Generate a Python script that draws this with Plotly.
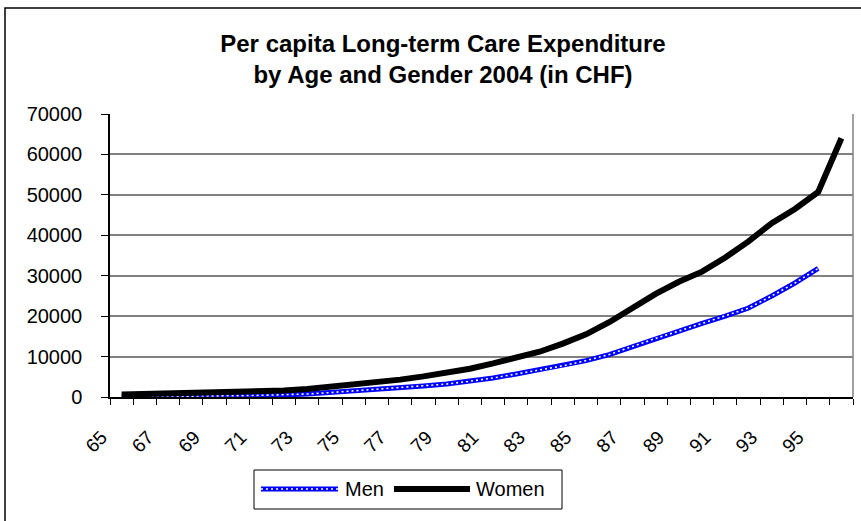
import plotly.graph_objects as go

ages_women = list(range(65, 97))
women = [600, 700, 900, 1000, 1100, 1200, 1400, 1600, 2000, 2500, 3000, 3600,
         4300, 5100, 6000, 7000, 8300, 9700, 11200, 13200, 15500, 18500, 22000,
         25500, 28500, 31000, 34500, 38500, 43000, 46500, 50700, 64000]
ages_men = list(range(65, 96))
men = [50, 80, 120, 180, 250, 330, 420, 500, 750, 1100, 1500, 1900, 2300, 2700,
       3200, 3900, 4700, 5700, 6700, 7700, 9000, 10500, 12500, 14500, 16300,
       18200, 20000, 22000, 25000, 28200, 31800]
tick_ages = list(range(65, 97, 2))
tick_labels = [str(a) for a in range(65, 97, 2)]

W_FIG, H_FIG = 861, 521
L, R, T, B = 110, 853, 114, 397
PW, PH = R - L, B - T


def px(x):
    return (x - L) / PW


def py(y):
    return (B - y) / PH


FONT = "Liberation Sans, Arial, sans-serif"

fig = go.Figure()
fig.add_trace(go.Scatter(x=ages_men, y=men, mode="lines", name="Men",
                         line=dict(color="#0000FF", width=5), showlegend=False))
fig.add_trace(go.Scatter(x=ages_men, y=men, mode="lines", name="Men pattern",
                         line=dict(color="white", width=1.6, dash="2px,3px"),
                         showlegend=False, hoverinfo="skip"))
fig.add_trace(go.Scatter(x=ages_women, y=women, mode="lines", name="Women",
                         line=dict(color="black", width=6), showlegend=False))

shapes = [
    # outer chart border
    dict(type="rect", xref="paper", yref="paper", x0=px(5), x1=px(880),
         y0=py(560), y1=py(8), line=dict(color="black", width=1.5)),
    # right plot border
    dict(type="line", xref="paper", yref="paper", x0=1, x1=1, y0=0, y1=1,
         line=dict(color="#808080", width=1.5)),
    # legend box
    dict(type="rect", xref="paper", yref="paper", x0=px(254), x1=px(562),
         y0=py(509), y1=py(470), line=dict(color="black", width=1),
         fillcolor="white"),
    dict(type="line", xref="paper", yref="paper", x0=px(261), x1=px(338),
         y0=py(489), y1=py(489), line=dict(color="#0000FF", width=5)),
    dict(type="line", xref="paper", yref="paper", x0=px(261), x1=px(338),
         y0=py(489), y1=py(489), line=dict(color="white", width=1.6, dash="2px,3px")),
    dict(type="line", xref="paper", yref="paper", x0=px(394), x1=px(470),
         y0=py(489), y1=py(489), line=dict(color="black", width=6)),
]

annotations = [
    dict(text="Men", xref="paper", yref="paper", x=px(343), y=py(489),
         xanchor="left", yanchor="middle", showarrow=False,
         font=dict(family=FONT, size=20, color="black")),
    dict(text="Women", xref="paper", yref="paper", x=px(474), y=py(489),
         xanchor="left", yanchor="middle", showarrow=False,
         font=dict(family=FONT, size=20, color="black")),
]

fig.update_layout(
    width=W_FIG, height=H_FIG,
    margin=dict(l=L, r=W_FIG - R, t=T, b=H_FIG - B, pad=0),
    paper_bgcolor="white", plot_bgcolor="white",
    font=dict(family=FONT, size=17, color="black"),
    title=dict(text="<b>Per capita Long-term Care Expenditure<br>by Age and Gender 2004 (in CHF)</b>",
               x=px(443), xref="paper", xanchor="center",
               y=1 - 52 / H_FIG, yanchor="middle", yref="container",
               font=dict(family=FONT, size=24, color="black")),
    showlegend=False,
    shapes=shapes,
    annotations=annotations,
)

fig.update_xaxes(
    type="linear", range=[64.5, 96.5],
    tickmode="array", tickvals=tick_ages, ticktext=tick_labels,
    tickangle=-45, ticks="", showgrid=False, zeroline=False,
    showline=True, linecolor="black", linewidth=1.5,
    tickfont=dict(family=FONT, size=19, color="black"),
    minor=dict(tickmode="array", tickvals=[a + 0.5 for a in range(64, 97)],
               ticks="outside", ticklen=6, tickcolor="black", tickwidth=1,
               showgrid=False),
    ticklabelstandoff=20, ticklabelshift=-20,
)

fig.update_yaxes(
    range=[0, 70000], dtick=10000, tick0=0, tickformat="d",
    showgrid=True, gridcolor="#808080", gridwidth=1.5,
    zeroline=False, showline=True, linecolor="black", linewidth=1.5,
    ticks="outside", ticklen=7, tickcolor="black",
    tickfont=dict(family=FONT, size=20, color="black"),
    ticklabelstandoff=15,
)

fig.write_html("out.html", config={"displayModeBar": False},
               post_script="document.body.style.margin='0px';")
